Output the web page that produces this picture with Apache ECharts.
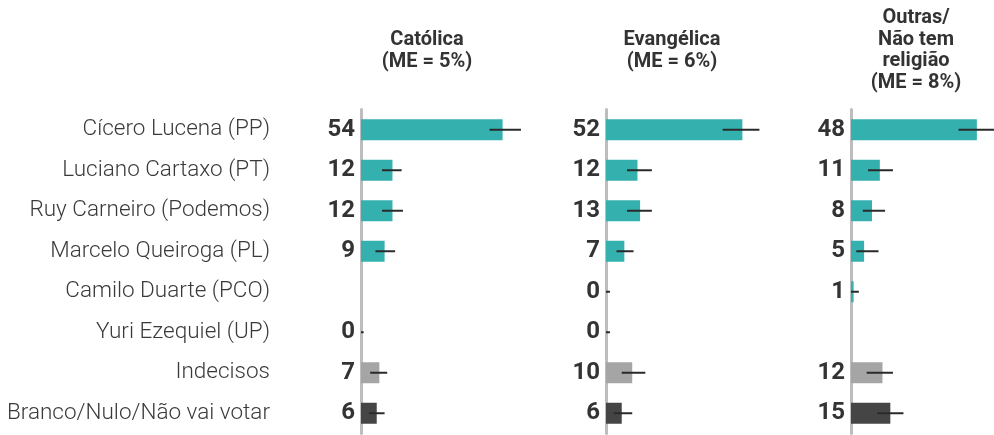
<!DOCTYPE html>
<html>
<head>
<meta charset="utf-8">
<script src="https://cdn.jsdelivr.net/npm/echarts@6/dist/echarts.min.js"></script>
<style>
  html, body { margin: 0; padding: 0; background: #fff; }
  #chart { width: 994px; height: 435px; }
</style>
</head>
<body>
<div id="chart"></div>
<script>
var categories = ['Cícero Lucena (PP)', 'Luciano Cartaxo (PT)', 'Ruy Carneiro (Podemos)', 'Marcelo Queiroga (PL)',
    'Camilo Duarte (PCO)', 'Yuri Ezequiel (UP)', 'Indecisos', 'Branco/Nulo/Não vai votar'];

var panelTitles = ['Católica\n(ME = 5%)', 'Evangélica\n(ME = 6%)', 'Outras/\nNão tem\nreligião\n(ME = 8%)'];

var catolica = [54, 12, 12, 9, null, 0, 7, 6];
var catolicaLow = [49, 8, 8, 5.5, null, 0, 3.5, 3];
var catolicaHigh = [61, 15.5, 16, 13, null, 1, 10, 9];

var evangelica = [52, 12, 13, 7, 0, 0, 10, 6];
var evangelicaLow = [44.5, 8, 8, 4, 0, 0, 6, 3];
var evangelicaHigh = [58.5, 17.5, 17.5, 10.5, 1.5, 1.5, 15, 10];

var outras = [48, 11, 8, 5, 1, null, 12, 15];
var outrasLow = [41, 6.5, 4.5, 2, 0, null, 6, 10];
var outrasHigh = [57, 16, 13, 10.5, 3, null, 16, 20];

var panels = [
    { values: catolica, low: catolicaLow, high: catolicaHigh },
    { values: evangelica, low: evangelicaLow, high: evangelicaHigh },
    { values: outras, low: outrasLow, high: outrasHigh }
];

var FONT = 'Roboto, "Noto Sans", sans-serif';
// same scale in every panel: 236px for 90 points
var panelLeft = [361, 606, 851];
var panelWidth = [236, 236, 143];
var panelMax = [90, 90, 143 * 90 / 236];
var titleCenter = [422, 667, 911];
var titleTop = [24, 24, 2];

function barColor(i) {
    if (i === 6) return '#a5a5a5';
    if (i === 7) return '#454545';
    return '#34b1ae';
}

var chart = echarts.init(document.getElementById('chart'));

var grids = [], xAxes = [], yAxes = [], series = [], titles = [];

panels.forEach(function(p, k) {
    grids.push({ left: panelLeft[k], top: 109.5, width: panelWidth[k], height: 324 });
    xAxes.push({
        type: 'value', gridIndex: k, min: 0, max: panelMax[k], show: false
    });
    yAxes.push({
        type: 'category', gridIndex: k, data: categories, inverse: true,
        axisLine: { show: true, lineStyle: { color: '#bdbdbd', width: 3 } },
        axisTick: { show: false },
        axisLabel: {
            show: k === 0, margin: 91, fontFamily: FONT, fontWeight: 300,
            fontSize: 22.5, color: '#3a3a3a'
        }
    });
    titles.push({
        text: panelTitles[k], left: titleCenter[k], top: titleTop[k], textAlign: 'center',
        textStyle: { fontFamily: FONT, fontWeight: 'bold', fontSize: 20, lineHeight: 21.7, color: '#333' }
    });
    series.push({
        type: 'bar', xAxisIndex: k, yAxisIndex: k, barWidth: 21,
        data: p.values.map(function(v, i) {
            return { value: v, itemStyle: { color: barColor(i) } };
        }),
        label: {
            show: true, position: 'left', distance: 6,
            fontFamily: FONT, fontWeight: 'bold', fontSize: 24, color: '#333'
        },
        z: 3
    });
    var errData = [];
    p.low.forEach(function(lo, i) {
        if (lo !== null) errData.push([i, lo, p.high[i]]);
    });
    series.push({
        type: 'custom', xAxisIndex: k, yAxisIndex: k,
        encode: { x: [1, 2], y: 0 },
        clip: false,
        data: errData,
        renderItem: function(params, api) {
            var a = api.coord([api.value(1), api.value(0)]);
            var b = api.coord([api.value(2), api.value(0)]);
            return {
                type: 'line',
                shape: { x1: a[0], y1: a[1], x2: b[0], y2: b[1] },
                style: { stroke: '#2a2a2a', lineWidth: 2 }
            };
        },
        z: 4
    });
});

chart.setOption({
    animation: false,
    backgroundColor: '#fff',
    title: titles,
    grid: grids,
    xAxis: xAxes,
    yAxis: yAxes,
    series: series
});
</script>
</body>
</html>
